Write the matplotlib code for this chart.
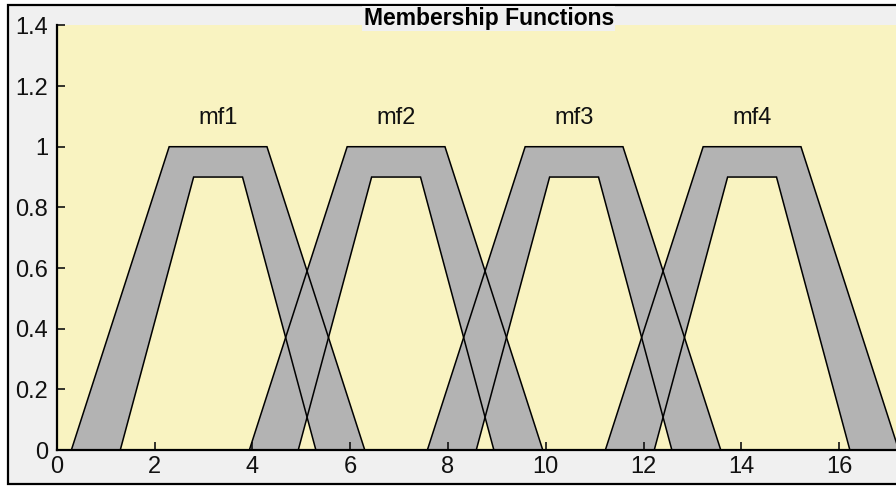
import matplotlib
matplotlib.use("Agg")
import matplotlib.pyplot as plt
from matplotlib.patches import Rectangle

# interval type-2 trapezoids: upper MF corners and lower MF corners
mf_names = ["mf1", "mf2", "mf3", "mf4"]
upper_params = [
    [0.30, 2.30, 4.30, 6.30],
    [3.94, 5.94, 7.94, 9.94],
    [7.58, 9.58, 11.58, 13.58],
    [11.22, 13.22, 15.22, 17.22],
]
lower_params = [
    [1.30, 2.80, 3.80, 5.30],
    [4.94, 6.44, 7.44, 8.94],
    [8.58, 10.08, 11.08, 12.58],
    [12.22, 13.72, 14.72, 16.22],
]
lower_scale = 0.9
upper_scale = 1.0

xticks = [0, 2, 4, 6, 8, 10, 12, 14, 16]
yticks = [0, 0.2, 0.4, 0.6, 0.8, 1.0, 1.2, 1.4]
ytick_labels = ["0", "0.2", "0.4", "0.6", "0.8", "1", "1.2", "1.4"]

W, H = 896, 486
plt.rcParams["font.family"] = ["Liberation Sans", "DejaVu Sans"]

fig = plt.figure(figsize=(W / 100, H / 100), dpi=100, facecolor="white")

# window panel behind the axes
panel = Rectangle((8 / W, 2 / H), 1.2, (484 - 5) / H, transform=fig.transFigure,
                  facecolor="#f0f0f0", edgecolor="black", linewidth=1.6, zorder=-10)
fig.patches.append(panel)

x_max = 17.67
px_per_unit = 48.9
ax = fig.add_axes([56.7 / W, 36 / H, x_max * px_per_unit / W, 424.6 / H])
ax.set_zorder(1)
ax.set_facecolor("#f9f3c1")

for name, up, lo in zip(mf_names, upper_params, lower_params):
    # footprint of uncertainty: along the upper MF, back along the lower MF
    xs = [up[0], up[1], up[2], up[3], lo[3], lo[2], lo[1], lo[0]]
    ys = [0, upper_scale, upper_scale, 0, 0, lower_scale, lower_scale, 0]
    ax.fill(xs, ys, facecolor="#b3b3b3", edgecolor="none", zorder=1)

for name, up, lo in zip(mf_names, upper_params, lower_params):
    ax.plot(up, [0, upper_scale, upper_scale, 0], color="black", lw=1.1,
            zorder=2, solid_joinstyle="miter")
    ax.plot(lo, [0, lower_scale, lower_scale, 0], color="black", lw=1.1,
            zorder=2, solid_joinstyle="miter")
    ax.text((up[1] + up[2]) / 2, 1.095, name, ha="center", va="center",
            fontsize=17, color="#111111")

ax.set_xlim(0, x_max)
ax.set_ylim(0, 1.4)
ax.set_xticks(xticks)
ax.set_yticks(yticks)
ax.set_yticklabels(ytick_labels)
ax.tick_params(direction="in", length=6, width=1.2, labelsize=17,
               colors="#111111", pad=6)
ax.tick_params(axis="x", pad=4)

for side in ["top", "right"]:
    ax.spines[side].set_visible(False)
for side in ["left", "bottom"]:
    ax.spines[side].set_linewidth(1.6)

ax.text(0.5, 1.016, "Membership Functions", transform=ax.transAxes,
        ha="center", va="center", fontsize=16.5, fontweight="bold",
        bbox=dict(facecolor="#f0f0f0", edgecolor="none", pad=1.0), zorder=5)

fig.savefig("out.png", dpi=100)
